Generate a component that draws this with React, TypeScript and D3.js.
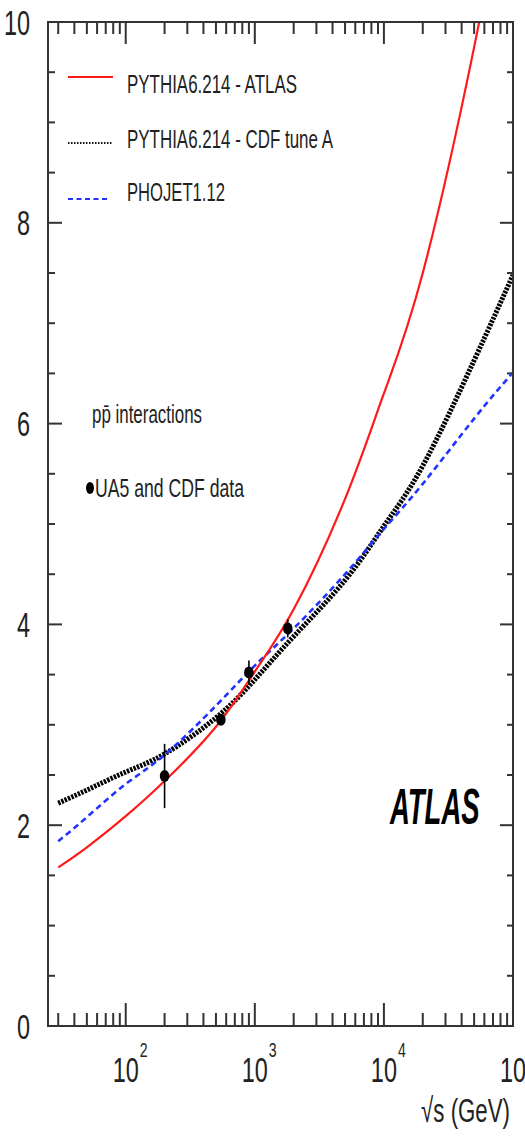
import React, { useRef, useEffect } from "react";
import * as d3 from "d3";

const energies = [30, 50, 100, 200, 500, 1000, 2000, 5000, 10000, 20000, 50000, 100000];
const pythiaAtlas = [1.58, 1.78, 2.09, 2.44, 2.98, 3.53, 4.15, 5.25, 6.3, 7.5, 9.75, 11.8];
const pythiaCdfA = [2.22, 2.35, 2.53, 2.71, 3.07, 3.45, 3.88, 4.44, 4.98, 5.58, 6.63, 7.48];
const phojet = [1.84, 2.08, 2.41, 2.7, 3.19, 3.59, 3.96, 4.5, 4.95, 5.4, 6.05, 6.51];

// UA5 and CDF measurements
const dataEnergies = [200, 546, 900, 1800];
const dataValues = [2.49, 3.05, 3.52, 3.96];
const dataErrors = [0.32, 0.05, 0.12, 0.09];

const legendLabels = ["PYTHIA6.214 - ATLAS", "PYTHIA6.214 - CDF tune A", "PHOJET1.12"];
const yTickValues = [0, 2, 4, 6, 8, 10];
const xTickExponents = [2, 3, 4, 5];

const FONT = "'Liberation Sans', Arial, Helvetica, sans-serif";

const App = () => {
  const svgRef = useRef<SVGSVGElement>(null);

  useEffect(() => {
    const svg = d3.select(svgRef.current);
    svg.selectAll("*").remove();

    const left = 48, right = 513, top = 22, bottom = 1026;
    const x = d3.scaleLog().domain([25, 1e5]).range([left, right]);
    const y = d3.scaleLinear().domain([0, 10]).range([bottom, top]);
    const axisColor = "#333";

    svg.append("rect").attr("width", 525).attr("height", 1136).attr("fill", "#fff");

    svg.append("clipPath").attr("id", "plotclip")
      .append("rect").attr("x", left).attr("y", top)
      .attr("width", right - left).attr("height", bottom - top);

    // squeezed text, like the narrow font of the original
    const txt = (str, tx, ty, size, anchor = "start", sx = 0.67) =>
      svg.append("text")
        .attr("transform", `translate(${tx},${ty}) scale(${sx},1)`)
        .attr("text-anchor", anchor)
        .attr("font-family", FONT)
        .attr("font-size", size)
        .attr("fill", "#222")
        .text(str);

    const fitTxt = (str, tx, ty, size, len) =>
      svg.append("text")
        .attr("x", tx).attr("y", ty)
        .attr("font-family", FONT)
        .attr("font-size", size)
        .attr("fill", "#222")
        .attr("textLength", len)
        .attr("lengthAdjust", "spacingAndGlyphs")
        .text(str);

    // ticks
    const ticks = svg.append("g").attr("stroke", axisColor).attr("stroke-width", 2);
    const minorX = [];
    for (let e = 1; e <= 4; e++) {
      for (let m = 2; m <= 9; m++) {
        const v = m * Math.pow(10, e);
        if (v >= 25 && v < 1e5) minorX.push(v);
      }
    }
    const majorX = [100, 1000, 10000];
    minorX.forEach((v) => {
      ticks.append("line").attr("x1", x(v)).attr("x2", x(v)).attr("y1", bottom).attr("y2", bottom - 13);
      ticks.append("line").attr("x1", x(v)).attr("x2", x(v)).attr("y1", top).attr("y2", top + 12);
    });
    majorX.forEach((v) => {
      ticks.append("line").attr("x1", x(v)).attr("x2", x(v)).attr("y1", bottom).attr("y2", bottom - 23);
      ticks.append("line").attr("x1", x(v)).attr("x2", x(v)).attr("y1", top).attr("y2", top + 22);
    });
    d3.range(0, 10.01, 0.5).forEach((v) => {
      const major = Math.abs(v % 2) < 1e-6;
      ticks.append("line").attr("x1", left).attr("x2", left + (major ? 14 : 7)).attr("y1", y(v)).attr("y2", y(v));
      ticks.append("line").attr("x1", right).attr("x2", right - (major ? 13 : 6)).attr("y1", y(v)).attr("y2", y(v));
    });

    // curves
    const line = d3.line<number>()
      .x((_, i) => x(energies[i]))
      .y((d) => y(d))
      .curve(d3.curveNatural);
    const curves = svg.append("g").attr("clip-path", "url(#plotclip)").attr("fill", "none");
    curves.append("path").attr("d", line(pythiaCdfA))
      .attr("stroke", "#000").attr("stroke-width", 5).attr("stroke-dasharray", "2.4,1.2");
    curves.append("path").attr("d", line(phojet))
      .attr("stroke", "#2233ff").attr("stroke-width", 2.6).attr("stroke-dasharray", "6,4");
    curves.append("path").attr("d", line(pythiaAtlas))
      .attr("stroke", "#ff1a1a").attr("stroke-width", 2.2);

    // data points with error bars
    const pts = svg.append("g");
    dataEnergies.forEach((e, i) => {
      pts.append("line")
        .attr("x1", x(e)).attr("x2", x(e))
        .attr("y1", y(dataValues[i] + dataErrors[i])).attr("y2", y(dataValues[i] - dataErrors[i]))
        .attr("stroke", "#000").attr("stroke-width", 1.6);
      pts.append("ellipse")
        .attr("cx", x(e)).attr("cy", y(dataValues[i]))
        .attr("rx", 4.8).attr("ry", 6).attr("fill", "#000");
    });

    // frame
    svg.append("rect")
      .attr("x", left).attr("y", top)
      .attr("width", right - left).attr("height", bottom - top)
      .attr("fill", "none").attr("stroke", axisColor).attr("stroke-width", 2);

    // y tick labels
    yTickValues.forEach((v) => txt(String(v), 30, y(v) + 12.5, 35, "end"));

    // x tick labels 10^n (the last exponent falls off the page in the original)
    xTickExponents.forEach((n) => {
      const px = x(Math.pow(10, n));
      txt("10", px, 1082, 35, "middle");
      if (px + 14 < 505) txt(String(n), px + 14, 1057, 21, "start");
    });
    txt("\u221As (GeV)", 510, 1122, 34, "end", 0.655);

    // legend
    const legendY = [93, 148, 201];
    const legend = svg.append("g");
    legend.append("line").attr("x1", 68).attr("x2", 113).attr("y1", 77).attr("y2", 77)
      .attr("stroke", "#ff1a1a").attr("stroke-width", 2);
    legend.append("line").attr("x1", 68).attr("x2", 113).attr("y1", 143).attr("y2", 143)
      .attr("stroke", "#111").attr("stroke-width", 1.8).attr("stroke-dasharray", "1.5,1.5");
    legend.append("line").attr("x1", 68).attr("x2", 110).attr("y1", 199).attr("y2", 199)
      .attr("stroke", "#2233ff").attr("stroke-width", 2).attr("stroke-dasharray", "5,3.5");
    const legendWidths = [170, 206, 98];
    legendLabels.forEach((l, i) => fitTxt(l, 127, legendY[i], 25, legendWidths[i]));

    fitTxt("pp\u0304 interactions", 92, 423, 25, 110);
    svg.append("ellipse").attr("cx", 90).attr("cy", 488).attr("rx", 4).attr("ry", 6).attr("fill", "#000");
    fitTxt("UA5 and CDF data", 95, 497, 25, 149);

    svg.append("text")
      .attr("transform", "translate(390,824) scale(0.55,1)")
      .attr("font-family", FONT)
      .attr("font-size", 50)
      .attr("font-weight", "bold")
      .attr("font-style", "italic")
      .attr("fill", "#000")
      .text("ATLAS");
  }, []);

  return (
    <svg
      ref={svgRef}
      width={525}
      height={1136}
      style={{ position: "absolute", left: 0, top: 0 }}
    ></svg>
  );
};

export default App;
